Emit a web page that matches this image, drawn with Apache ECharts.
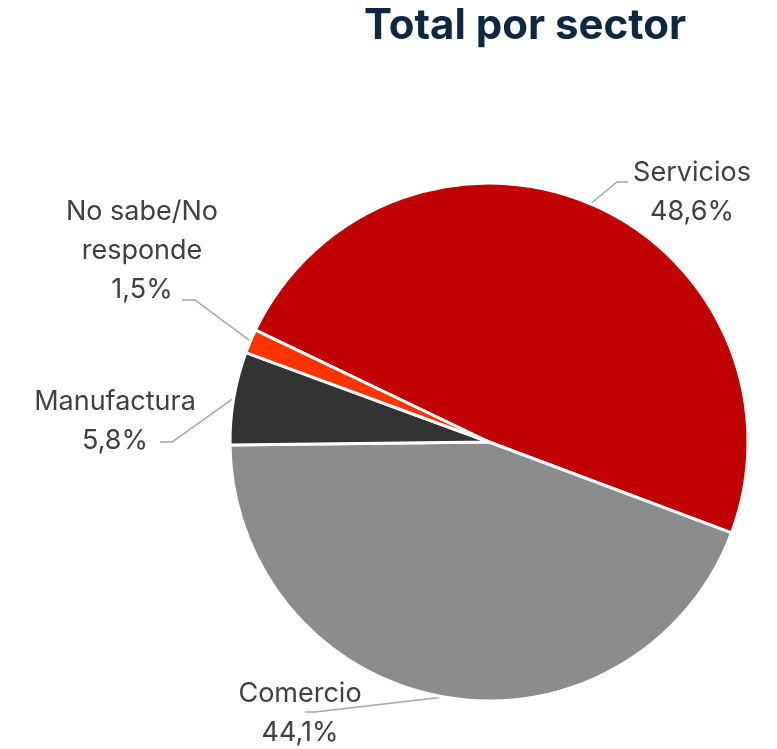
<!DOCTYPE html>
<html>
<head>
<meta charset="utf-8">
<script src="https://cdn.jsdelivr.net/npm/echarts@6/dist/echarts.min.js"></script>
<style>
html,body{margin:0;padding:0;background:#fff;}
#chart{width:777px;height:749px;}
</style>
</head>
<body>
<div id="chart"></div>
<script>
const categories = ['Servicios', 'Comercio', 'Manufactura', 'No sabe/No\nresponde'];
const values = [48.6, 44.1, 5.8, 1.5];
const colors = ['#C00000', '#8C8C8C', '#333333', '#FF3300'];
// label anchor positions (px) and leader-line end/bend offsets relative to anchor; presentation only
const labelPos = [[692, 192], [300, 713], [115, 421], [142, 251]];
const lineEndOff = [[-64, -10], [5, -1], [45, 21], [40, 49]];
const lineBendOff = [[-75, -10], [15, -1], [57, 21], [53, 49]];

const chart = echarts.init(document.getElementById('chart'));
chart.setOption({
  animation: false,
  title: {
    text: 'Total por sector',
    left: 520, top: 0,
    textAlign: 'center',
    textStyle: { fontFamily: 'Inter', fontWeight: 'bold', fontSize: 42, color: '#0E2841' }
  },
  series: [{
    type: 'pie',
    center: [489, 442],
    radius: 259,
    startAngle: 154.4,
    clockwise: true,
    itemStyle: { borderColor: '#ffffff', borderWidth: 3 },
    label: {
      show: true,
      position: 'outside',
      fontFamily: 'Inter',
      fontSize: 27,
      lineHeight: 39,
      color: '#404040',
      align: 'center',
      formatter: p => p.name + '\n' + p.value.toFixed(1).replace('.', ',') + '%'
    },
    labelLine: { show: true, length: 20, length2: 12, lineStyle: { color: '#A6A6A6', width: 1.5 } },
    labelLayout: params => {
      const i = params.dataIndex;
      const pos = labelPos[i];
      const out = { x: pos[0], y: pos[1], align: 'center', verticalAlign: 'middle' };
      if (params.labelLinePoints && params.labelLinePoints.length) {
        const start = params.labelLinePoints[0];
        out.labelLinePoints = [
          [start[0], start[1]],
          [pos[0] + lineBendOff[i][0], pos[1] + lineBendOff[i][1]],
          [pos[0] + lineEndOff[i][0], pos[1] + lineEndOff[i][1]]
        ];
      }
      return out;
    },
    data: categories.map((c, i) => ({ name: c, value: values[i], itemStyle: { color: colors[i] } }))
  }]
});
</script>
</body>
</html>
